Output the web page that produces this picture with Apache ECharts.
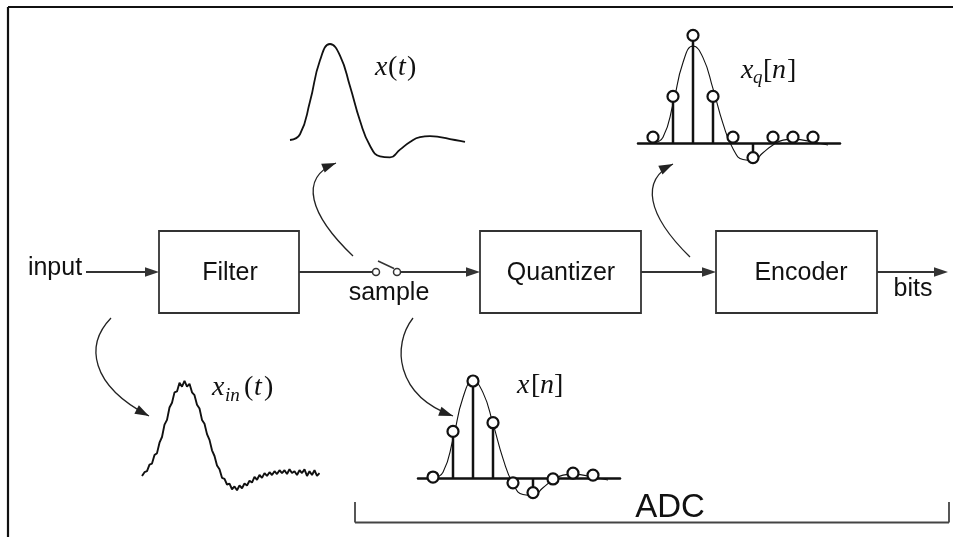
<!DOCTYPE html>
<html>
<head>
<meta charset="utf-8">
<script src="https://cdn.jsdelivr.net/npm/echarts@6/dist/echarts.min.js"></script>
<style>
html,body{margin:0;padding:0;background:#fff;}
#chart{width:953px;height:537px;}
</style>
</head>
<body>
<div id="chart"></div>
<script>
// ---- data ----
// continuous analog signal x(t), t in sample units
const xtT = [0, 0.5, 1, 1.5, 2, 2.5, 3, 3.5, 4, 4.5, 5, 5.5, 6, 6.5, 7, 7.5, 8, 8.5, 8.75];
const xtV = [0.00, 0.06, 0.40, 0.83, 1.00, 0.88, 0.56, 0.20, -0.06, -0.17, -0.18, -0.10, -0.02, 0.03, 0.04, 0.03, 0.01, -0.01, -0.02];
// noisy input x_in(t), sampled every xinStep
const xinStep = 0.125;
const xinV = [-0.01, 0.03, 0.04, 0.11, 0.12, 0.21, 0.23, 0.34, 0.40, 0.53, 0.58, 0.71, 0.76, 0.87, 0.88, 0.97,
  0.93, 0.99, 0.93, 0.96, 0.87, 0.84, 0.74, 0.70, 0.58, 0.54, 0.43, 0.37, 0.26, 0.20, 0.10, 0.06,
  -0.03, -0.04, -0.10, -0.09, -0.15, -0.12, -0.16, -0.11, -0.14, -0.09, -0.11, -0.06, -0.08, -0.02, -0.05, 0.00,
  -0.03, 0.02, -0.01, 0.03, 0.00, 0.04, 0.01, 0.05, 0.02, 0.05, 0.01, 0.06, 0.02, 0.04, 0.00, 0.05,
  0.02, 0.06, -0.01, 0.04, 0.00, 0.05, -0.01, 0.02];
// sampled x[n] and quantized xq[n]
const nIdx = [0, 1, 2, 3, 4, 5, 6, 7, 8];
const xnV = [0.01, 0.48, 1.00, 0.57, -0.05, -0.15, -0.01, 0.05, 0.03];
const xqV = [0.06, 0.48, 1.11, 0.48, 0.06, -0.15, 0.06, 0.06, 0.06];
// block labels
const blocks = ['Filter', 'Quantizer', 'Encoder'];

// ---- build ----
const INK = '#111';
const LINE = '#333';
const SANS = '"Liberation Sans", Arial, sans-serif';
const SERIF = '"Liberation Serif", "Times New Roman", serif';

const xtData = xtT.map((t, i) => [t, xtV[i]]);
const xinData = xinV.map((v, i) => [i * xinStep, v]);
const xnData = nIdx.map((n, i) => [n, xnV[i]]);
const xqData = nIdx.map((n, i) => [n, xqV[i]]);

const grids = [
  {left: 142, top: 361, width: 177.5, height: 161.5},   // x_in(t)
  {left: 290, top: 24.8, width: 175, height: 163.2},    // x(t)
  {left: 418, top: 351.9, width: 202, height: 174.6},   // x[n]
  {left: 638, top: 16.9, width: 202, height: 174.6}     // xq[n]
];
const xRanges = [[0, 8.875], [0, 8.75], [-0.75, 9.35], [-0.75, 9.35]];
const yRanges = [[-0.5, 1.2], [-0.5, 1.2], [-0.5, 1.3], [-0.5, 1.3]];

const xAxes = grids.map((g, i) => ({
  type: 'value', gridIndex: i, min: xRanges[i][0], max: xRanges[i][1],
  show: i >= 2,
  axisLine: {show: i >= 2, onZero: true, lineStyle: {color: INK, width: 2.5}},
  axisTick: {show: false}, axisLabel: {show: false}, splitLine: {show: false}
}));
const yAxes = grids.map((g, i) => ({
  type: 'value', gridIndex: i, min: yRanges[i][0], max: yRanges[i][1],
  show: false, splitLine: {show: false}
}));

function stemSeries(gi, data) {
  return {
    type: 'custom', xAxisIndex: gi, yAxisIndex: gi, data: data, z: 3, silent: true,
    renderItem: function (params, api) {
      const p0 = api.coord([api.value(0), 0]);
      const p1 = api.coord([api.value(0), api.value(1)]);
      return {type: 'line', shape: {x1: p0[0], y1: p0[1], x2: p1[0], y2: p1[1]},
        style: {stroke: INK, lineWidth: 2.5}};
    }
  };
}
function dotSeries(gi, data) {
  return {
    type: 'scatter', xAxisIndex: gi, yAxisIndex: gi, data: data, z: 5, silent: true,
    symbol: 'circle', symbolSize: 11,
    itemStyle: {color: '#fff', borderColor: INK, borderWidth: 2.2, opacity: 1}
  };
}
function curveSeries(gi, data, w, smooth) {
  return {
    type: 'line', xAxisIndex: gi, yAxisIndex: gi, data: data, showSymbol: false, symbol: 'none',
    smooth: smooth, silent: true, z: 2, clip: false,
    lineStyle: {color: INK, width: w}
  };
}

const series = [
  curveSeries(0, xinData, 1.9, false),
  curveSeries(1, xtData, 1.8, true),
  curveSeries(2, xtData, 1.1, true),
  stemSeries(2, xnData),
  dotSeries(2, xnData),
  curveSeries(3, xtData, 1.1, true),
  stemSeries(3, xqData),
  dotSeries(3, xqData)
];

// ---- diagram graphics ----
const G = [];
function line(x1, y1, x2, y2, w, c) {
  G.push({type: 'line', shape: {x1, y1, x2, y2}, style: {stroke: c || LINE, lineWidth: w || 1.8}, silent: true});
}
function head(tx, ty, dx, dy, c) {
  const L = Math.hypot(dx, dy); dx /= L; dy /= L;
  const len = 14, hw = 4.8;
  const bx = tx - dx * len, by = ty - dy * len;
  G.push({type: 'polygon', shape: {points: [[tx, ty], [bx - dy * hw, by + dx * hw], [bx + dy * hw, by - dx * hw]]},
    style: {fill: c || LINE}, silent: true});
}
function arrowH(x1, x2, y) { line(x1, y, x2 - 6, y); head(x2, y, 1, 0); }
function curved(p0, c1, c2, p3) {
  G.push({type: 'bezierCurve', shape: {x1: p0[0], y1: p0[1], cpx1: c1[0], cpy1: c1[1], cpx2: c2[0], cpy2: c2[1], x2: p3[0], y2: p3[1]},
    style: {stroke: '#222', lineWidth: 1.3, fill: null}, silent: true});
  head(p3[0], p3[1], p3[0] - c2[0], p3[1] - c2[1], '#222');
}
function txt(s, x, y, size, align, font, italic) {
  G.push({type: 'text', x: x, y: y, silent: true,
    style: {text: s, fontSize: size, fontFamily: font || SANS, fontStyle: italic ? 'italic' : 'normal',
      fill: INK, textAlign: align || 'center', textVerticalAlign: 'middle', verticalAlign: 'middle'}});
}
// math labels: pieces [text, x, baseline, size, italic]
function mathLabel(pieces) {
  pieces.forEach(p => txt(p[0], p[1], p[2] - 0.34 * p[3], p[3], 'left', SERIF, p[4]));
}

// frame
line(8, 7, 953, 7, 2.2, INK);
line(8, 7, 8, 537, 2.2, INK);

// boxes
const boxX = [[159, 299], [480, 641], [716, 877]];
const boxTxtX = [230, 561, 801];
boxX.forEach((b, i) => {
  G.push({type: 'rect', shape: {x: b[0], y: 231, width: b[1] - b[0], height: 82},
    style: {fill: 'none', stroke: LINE, lineWidth: 1.8}, silent: true});
  txt(blocks[i], boxTxtX[i], 273.5, 25);
});

// signal path
const yM = 272;
arrowH(86, 159, yM);
line(299, yM, 372.5, yM);
G.push({type: 'circle', shape: {cx: 376, cy: yM, r: 3.5}, style: {fill: '#fff', stroke: LINE, lineWidth: 1.5}, silent: true});
G.push({type: 'circle', shape: {cx: 397, cy: yM, r: 3.5}, style: {fill: '#fff', stroke: LINE, lineWidth: 1.5}, silent: true});
line(378, 261, 394, 268.5, 1.5);
arrowH(400.5, 480, yM);
arrowH(641, 716, yM);
arrowH(877, 948, yM);

txt('input', 55, 268, 25);
txt('sample', 389, 293, 25);
txt('bits', 913, 289, 25);

// curved arrows
curved([353, 256], [310, 215], [298, 178], [336, 163]);
curved([690, 257], [647, 215], [640, 180], [673, 164]);
curved([111, 318], [85, 345], [90, 385], [149, 416]);
curved([413, 318], [392, 345], [395, 395], [453, 416]);

// math labels
mathLabel([['x', 375, 77, 28, true], ['(', 388, 77, 28, false], ['t', 398, 77, 28, true], [')', 407, 77, 28, false]]);
mathLabel([['x', 212, 397, 28, true], ['in', 225, 402, 19, true], ['(', 244, 397, 28, false], ['t', 254, 397, 28, true], [')', 264, 397, 28, false]]);
mathLabel([['x', 517, 395, 28, true], ['[', 531, 395, 28, false], ['n', 540, 395, 28, true], [']', 554, 395, 28, false]]);
mathLabel([['x', 741, 80, 28, true], ['q', 753, 84, 19, true], ['[', 763, 80, 28, false], ['n', 772, 80, 28, true], [']', 787, 80, 28, false]]);

// ADC bracket
line(355, 502, 355, 522.5, 1.8, '#444');
line(355, 522.5, 949, 522.5, 1.8, '#444');
line(949, 502, 949, 522.5, 1.8, '#444');
txt('ADC', 670, 507.5, 33);

const chart = echarts.init(document.getElementById('chart'), null, {renderer: 'canvas'});
chart.setOption({
  animation: false,
  backgroundColor: '#fff',
  grid: grids,
  xAxis: xAxes,
  yAxis: yAxes,
  series: series,
  graphic: {elements: G}
});
</script>
</body>
</html>
